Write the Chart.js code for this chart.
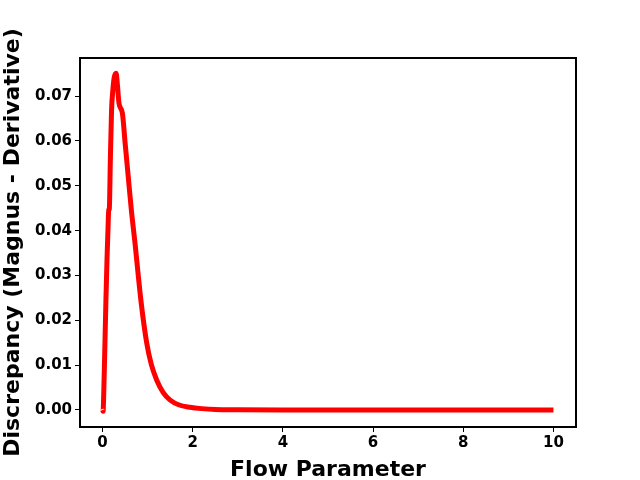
<!DOCTYPE html>
<html>
<head>
<meta charset="utf-8">
<script src="https://cdn.jsdelivr.net/npm/chart.js@4"></script>
<style>
  html, body { margin: 0; padding: 0; background: #fff; }
  #wrap { width: 640px; height: 480px; }
</style>
</head>
<body>
<div id="wrap"><canvas id="flowChart" width="640" height="480"></canvas></div>
<script>
// values
const flowParam = [0, 0.012, 0.025, 0.05, 0.075, 0.1, 0.12, 0.137, 0.15, 0.173, 0.2, 0.23, 0.26, 0.3, 0.33, 0.365, 0.44, 0.5, 0.57, 0.64, 0.72, 0.85, 0.98, 1.08, 1.2, 1.35, 1.5, 1.7, 1.94, 2.2, 2.5, 3, 4, 5, 6, 7, 8, 9, 10];
const discrepancy = [0, -0.0003, 0.003, 0.0135, 0.0245, 0.034, 0.040, 0.0446, 0.0448, 0.0557, 0.0669, 0.0715, 0.0742, 0.0751, 0.0725, 0.0684, 0.0662, 0.0596, 0.052, 0.0445, 0.0372, 0.0245, 0.0149, 0.0102, 0.0067, 0.0038, 0.0022, 0.0011, 0.0006, 0.0003, 0.0001, 0.00003, 0, 0, 0, 0, 0, 0, 0];
const xTicks = [0, 2, 4, 6, 8, 10];
const yTicks = [0, 0.01, 0.02, 0.03, 0.04, 0.05, 0.06, 0.07];

const points = flowParam.map((x, i) => ({ x: x, y: discrepancy[i] }));
const tickFont = { family: 'DejaVu Sans', size: 15, weight: 'bold' };
const titleFont = { family: 'DejaVu Sans', size: 22, weight: 'bold' };

const framePlugin = {
    id: 'frame',
    afterDraw(chart) {
        const a = chart.chartArea, ctx = chart.ctx;
        ctx.save();
        ctx.strokeStyle = '#000';
        ctx.lineWidth = 2;
        ctx.strokeRect(a.left, a.top, a.right - a.left, a.bottom - a.top);
        ctx.restore();
    }
};

new Chart(document.getElementById('flowChart').getContext('2d'), {
    type: 'scatter',
    data: {
        datasets: [{
            data: points,
            showLine: true,
            borderColor: '#ff0000',
            borderWidth: 5,
            pointRadius: 0,
            cubicInterpolationMode: 'monotone'
        }]
    },
    options: {
        responsive: false,
        animation: false,
        layout: { padding: { top: 58, right: 64, left: 0, bottom: 0 } },
        plugins: { legend: { display: false }, tooltip: { enabled: false } },
        scales: {
            x: {
                type: 'linear',
                min: -0.5, max: 10.5,
                afterBuildTicks: s => { s.ticks = xTicks.map(v => ({ value: v })); },
                afterFit: s => { s.height = 53; },
                grid: { drawOnChartArea: false, drawTicks: true, tickLength: 5, color: '#000', lineWidth: 1 },
                border: { display: false },
                ticks: { color: '#000', font: tickFont, padding: 2, maxRotation: 0,
                         callback: v => String(v) },
                title: { display: true, text: 'Flow Parameter', color: '#000', font: titleFont, padding: { top: 0, bottom: -3 } }
            },
            y: {
                min: -0.0038, max: 0.0785,
                afterBuildTicks: s => { s.ticks = yTicks.map(v => ({ value: v })); },
                afterFit: s => { s.width = 80; },
                grid: { drawOnChartArea: false, drawTicks: true, tickLength: 5, color: '#000', lineWidth: 1 },
                border: { display: false },
                ticks: { color: '#000', font: tickFont, padding: 3,
                         callback: v => v.toFixed(2) },
                title: { display: true, text: 'Discrepancy (Magnus - Derivative)', color: '#000', font: titleFont, padding: { top: 0, bottom: 0 } }
            }
        }
    },
    plugins: [framePlugin]
});
</script>
</body>
</html>
